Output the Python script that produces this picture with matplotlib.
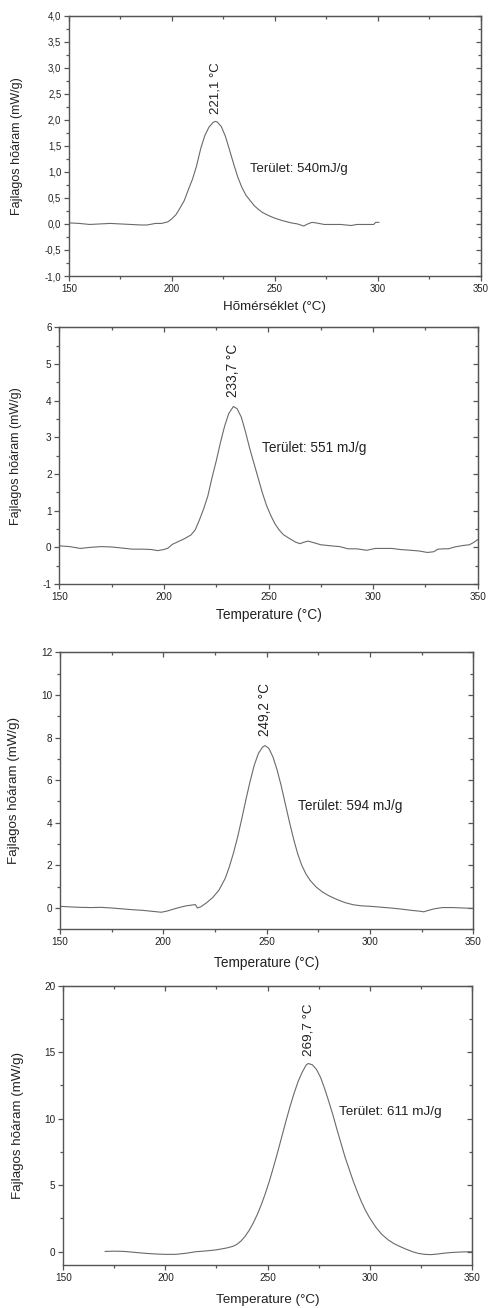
import matplotlib
matplotlib.use("Agg")
import matplotlib.pyplot as plt
from matplotlib.ticker import MultipleLocator, FuncFormatter

plt.rcParams['font.family'] = ['Liberation Sans', 'DejaVu Sans']

# ---------------- data ----------------
t1 = [150, 155, 160, 165, 170, 175, 180, 185, 188, 192, 195, 198, 200, 202, 204, 206, 208, 210,
      212, 214, 216, 218, 220, 221.1, 222, 224, 226, 228, 230, 232, 234, 236, 238, 240, 242, 244,
      247, 250, 254, 258, 261, 264, 266, 268, 270, 274, 278, 282, 287, 290, 295, 298, 299, 300.5]
v1 = [0.02, 0.01, -0.01, 0.0, 0.01, 0.0, -0.01, -0.02, -0.02, 0.01, 0.01, 0.04, 0.10, 0.18, 0.31,
      0.45, 0.66, 0.86, 1.12, 1.45, 1.70, 1.86, 1.95, 1.97, 1.96, 1.87, 1.68, 1.42, 1.15, 0.90, 0.70,
      0.55, 0.45, 0.35, 0.28, 0.22, 0.16, 0.11, 0.06, 0.02, 0.0, -0.04, 0.0, 0.03, 0.02, -0.01, -0.01,
      -0.01, -0.03, -0.01, -0.01, -0.01, 0.03, 0.03]

t2 = [150, 155, 160, 165, 170, 175, 180, 185, 190, 194, 197, 200, 202, 204, 207, 210, 213, 215,
      217, 219, 221, 223, 225, 227, 229, 231, 233.2, 235, 237, 239, 241, 243, 245, 247, 249, 251,
      253, 255, 257, 260, 263, 265, 267, 269, 272, 275, 280, 284, 288, 292, 297, 301, 305, 309,
      313, 318, 322, 326, 329, 331, 334, 336, 339, 343, 346, 348, 350]
v2 = [0.04, 0.02, -0.03, 0.0, 0.02, 0.01, -0.02, -0.05, -0.05, -0.06, -0.09, -0.06, -0.02, 0.08,
      0.16, 0.24, 0.34, 0.48, 0.75, 1.05, 1.40, 1.90, 2.35, 2.85, 3.30, 3.65, 3.84, 3.78, 3.55, 3.15,
      2.70, 2.30, 1.90, 1.50, 1.15, 0.88, 0.65, 0.48, 0.35, 0.24, 0.14, 0.10, 0.14, 0.17, 0.12, 0.07,
      0.04, 0.02, -0.04, -0.04, -0.08, -0.03, -0.03, -0.03, -0.06, -0.08, -0.10, -0.14, -0.12,
      -0.05, -0.04, -0.04, 0.01, 0.05, 0.07, 0.13, 0.21]

t3 = [150, 155, 160, 165, 170, 175, 180, 185, 190, 195, 199, 202, 205, 208, 211, 214, 215.5, 216.5,
      218, 221, 224, 227, 230, 232, 234, 236, 238, 240, 242, 244, 246, 248, 249.2, 251, 253, 255,
      257, 259, 261, 263, 265, 267, 269, 271, 274, 277, 280, 284, 288, 292, 296, 300, 305, 310,
      315, 320, 324, 326, 328, 331, 335, 340, 345, 350]
v3 = [0.08, 0.05, 0.03, 0.02, 0.03, 0.0, -0.04, -0.08, -0.11, -0.16, -0.20, -0.14, -0.05, 0.03,
      0.10, 0.14, 0.16, 0.0, 0.05, 0.25, 0.50, 0.85, 1.40, 1.95, 2.60, 3.35, 4.20, 5.10, 5.95, 6.70,
      7.25, 7.55, 7.62, 7.50, 7.10, 6.50, 5.75, 4.90, 4.05, 3.25, 2.55, 2.00, 1.60, 1.30, 0.98, 0.75,
      0.58, 0.40, 0.25, 0.15, 0.10, 0.08, 0.04, 0.0, -0.05, -0.11, -0.15, -0.18, -0.12, -0.04, 0.02,
      0.02, 0.0, -0.02]

t4 = [170.5, 175, 180, 185, 190, 195, 200, 205, 210, 215, 220, 225, 230, 233, 235, 237, 239, 241,
      243, 245, 247, 249, 251, 253, 255, 257, 259, 261, 263, 265, 267, 269, 270, 272, 274, 276, 278,
      280, 282, 284, 286, 288, 290, 292, 294, 296, 298, 300, 303, 306, 309, 312, 315, 318, 321, 324,
      327, 330, 333, 336, 340, 345, 350]
v4 = [0.02, 0.04, 0.02, -0.05, -0.12, -0.17, -0.20, -0.20, -0.12, 0.0, 0.06, 0.14, 0.28, 0.40,
      0.55, 0.80, 1.15, 1.60, 2.15, 2.80, 3.55, 4.40, 5.35, 6.40, 7.50, 8.65, 9.80, 10.90, 11.90,
      12.80, 13.50, 14.05, 14.15, 14.05, 13.70, 13.10, 12.25, 11.30, 10.30, 9.20, 8.15, 7.10, 6.20,
      5.30, 4.50, 3.75, 3.10, 2.55, 1.85, 1.30, 0.90, 0.60, 0.38, 0.18, 0.0, -0.13, -0.20, -0.22,
      -0.18, -0.12, -0.06, -0.02, 0.0]

peak_labels = ["221,1 °C", "233,7 °C", "249,2 °C", "269,7 °C"]
peak_pos = [(221.0, 2.12), (233.2, 4.1), (249.2, 8.07), (270.0, 14.7)]
area_labels = ["Terület: 540mJ/g", "Terület: 551 mJ/g", "Terület: 594 mJ/g", "Terület: 611 mJ/g"]
area_pos = [(238.0, 1.05), (246.7, 2.72), (265.1, 4.8), (285.2, 10.5)]
xlabels = ["Hõmérséklet (°C)", "Temperature (°C)", "Temperature (°C)", "Temperature (°C)"]
ylabel = "Fajlagos hõáram (mW/g)"
ylims = [(-1, 4), (-1, 6), (-1, 12), (-1, 20)]
ymajor = [0.5, 1, 2, 5]
yminor = [0.25, 0.5, 1, 2.5]

series = [(t1, v1), (t2, v2), (t3, v3), (t4, v4)]

# ---------------- layout ----------------
W, H = 491, 1308
fig = plt.figure(figsize=(W / 100, H / 100), dpi=100)
fig.patch.set_facecolor('white')

# pixel boxes (left, top, right, bottom)
boxes = [(69, 15.7, 480.7, 276), (59.3, 327.3, 477.7, 584),
         (60, 652.3, 473.3, 929.3), (63.3, 985.7, 471.7, 1265)]
xlab_y = [-0.119, -0.121, -0.123, -0.125]
ylab_x = [-0.127, -0.104, -0.111, -0.111]
tick_fs = [6.9, 7.2, 7.2, 7.2]
xlab_fs = [9.6, 9.9, 9.8, 9.7]
ylab_fs = [9.0, 9.0, 9.6, 9.6]
txt_fs = [9.5, 9.8, 9.8, 9.7]

axis_col = '#555555'
line_col = '#6a6a6a'
text_col = '#222222'

for i, (l, t, r, b) in enumerate(boxes):
    ax = fig.add_axes([l / W, 1 - b / H, (r - l) / W, (b - t) / H])
    x, y = series[i]
    ax.plot(x, y, color=line_col, lw=0.8)
    ax.set_xlim(150, 350)
    ax.set_ylim(*ylims[i])
    ax.xaxis.set_major_locator(MultipleLocator(50))
    ax.xaxis.set_minor_locator(MultipleLocator(25))
    ax.yaxis.set_major_locator(MultipleLocator(ymajor[i]))
    ax.yaxis.set_minor_locator(MultipleLocator(yminor[i]))
    if i == 0:
        ax.yaxis.set_major_formatter(FuncFormatter(lambda v, p: f"{v:.1f}".replace('.', ',')))
    else:
        ax.yaxis.set_major_formatter(FuncFormatter(lambda v, p: f"{v:.0f}"))
    for s in ax.spines.values():
        s.set_color(axis_col)
        s.set_linewidth(1.0)
    ax.tick_params(which='both', direction='out', color=axis_col, width=0.9,
                   labelsize=tick_fs[i], labelcolor=text_col, pad=2, top=False, right=False)
    ax.tick_params(which='major', length=3.5)
    ax.tick_params(which='minor', length=2)

    # inward ticks on top and right
    sx = ax.secondary_xaxis('top')
    sx.xaxis.set_major_locator(MultipleLocator(50))
    sx.xaxis.set_minor_locator(MultipleLocator(25))
    sx.tick_params(which='both', direction='in', color=axis_col, width=0.9, labeltop=False)
    sx.tick_params(which='major', length=3.5)
    sx.tick_params(which='minor', length=2)
    sx.spines['top'].set_color(axis_col)
    sy = ax.secondary_yaxis('right')
    sy.yaxis.set_major_locator(MultipleLocator(ymajor[i]))
    sy.yaxis.set_minor_locator(MultipleLocator(yminor[i]))
    sy.tick_params(which='both', direction='in', color=axis_col, width=0.9, labelright=False)
    sy.tick_params(which='major', length=3.5)
    sy.tick_params(which='minor', length=2)
    sy.spines['right'].set_color(axis_col)

    ax.set_xlabel(xlabels[i], fontsize=xlab_fs[i], color=text_col)
    ax.xaxis.set_label_coords(0.5, xlab_y[i])
    ax.xaxis.label.set_va('center')
    ax.set_ylabel(ylabel, fontsize=ylab_fs[i], color=text_col)
    ax.yaxis.set_label_coords(ylab_x[i], 0.5)
    ax.yaxis.label.set_va('center')

    px, py = peak_pos[i]
    ax.text(px, py, peak_labels[i], rotation=90, ha='center', va='bottom',
            fontsize=txt_fs[i], color=text_col)
    qx, qy = area_pos[i]
    ax.text(qx, qy, area_labels[i], ha='left', va='center', fontsize=txt_fs[i], color=text_col)

fig.savefig("out.png", dpi=100)
